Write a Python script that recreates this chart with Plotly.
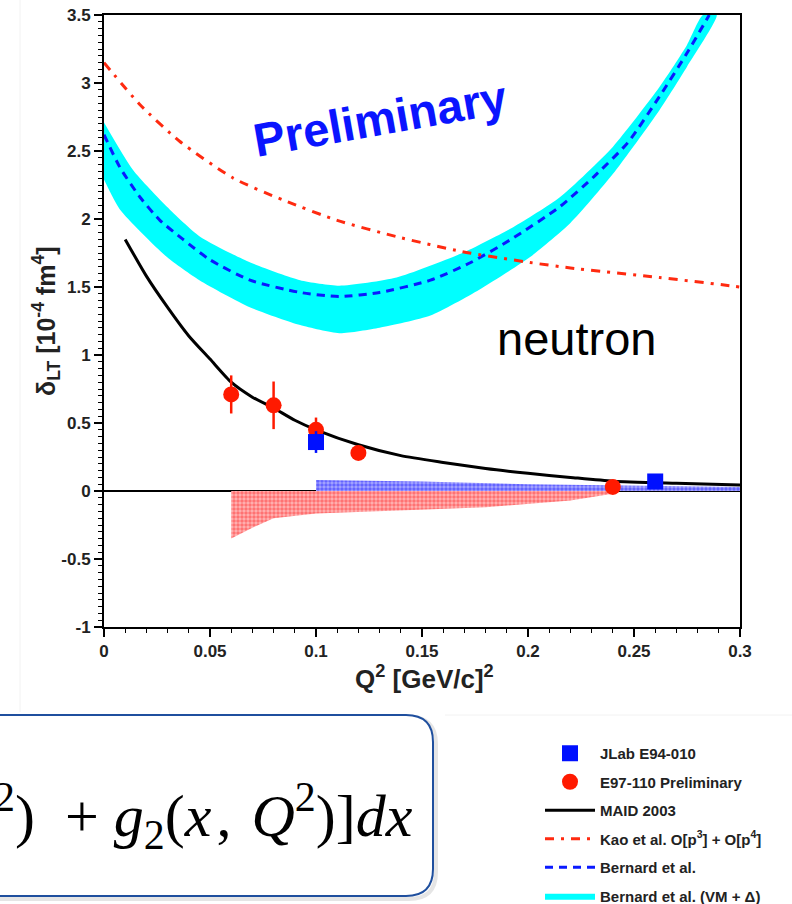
import plotly.graph_objects as go

# ---------------- data ----------------
# Bernard et al. (VM + Delta) band
band_up_x = [0.0, 0.0137, 0.0297, 0.0453, 0.069, 0.0925, 0.111, 0.138, 0.169, 0.193, 0.215, 0.24, 0.262, 0.275, 0.2825]
band_up_y = [2.71, 2.36, 2.09, 1.87, 1.68, 1.55, 1.51, 1.57, 1.75, 1.94, 2.16, 2.53, 2.97, 3.28, 3.5]
band_lo_x = [0.0, 0.0075, 0.0297, 0.045, 0.069, 0.0925, 0.111, 0.13, 0.154, 0.177, 0.201, 0.22, 0.24, 0.262, 0.275, 0.289]
band_lo_y = [2.29, 2.07, 1.72, 1.55, 1.35, 1.22, 1.16, 1.20, 1.29, 1.48, 1.72, 1.97, 2.33, 2.80, 3.12, 3.5]

# Bernard et al. (dashed)
bern_x = [0.0, 0.0075, 0.017, 0.0264, 0.0373, 0.05, 0.0689, 0.0925, 0.111, 0.13, 0.154, 0.173, 0.193, 0.215, 0.231, 0.247, 0.262, 0.275, 0.2855]
bern_y = [2.62, 2.38, 2.16, 1.99, 1.85, 1.70, 1.55, 1.46, 1.43, 1.46, 1.55, 1.68, 1.86, 2.09, 2.31, 2.56, 2.90, 3.22, 3.5]

# Kao et al.
kao_x = [0.0, 0.017, 0.0358, 0.061, 0.0844, 0.11, 0.138, 0.169, 0.201, 0.22, 0.262, 0.295, 0.3]
kao_y = [3.15, 2.84, 2.57, 2.30, 2.14, 1.99, 1.87, 1.76, 1.68, 1.64, 1.57, 1.51, 1.50]

# MAID 2003
maid_x = [0.01, 0.02, 0.03, 0.04, 0.05, 0.06, 0.07, 0.08, 0.09, 0.1, 0.12, 0.14, 0.16, 0.18, 0.2, 0.22, 0.24, 0.27, 0.3]
maid_y = [1.85, 1.58, 1.35, 1.14, 0.97, 0.80, 0.69, 0.61, 0.52, 0.45, 0.34, 0.26, 0.21, 0.165, 0.13, 0.10, 0.072, 0.057, 0.045]

# E97-110 preliminary
e97_x = [0.06, 0.08, 0.1, 0.12, 0.24]
e97_y = [0.71, 0.63, 0.45, 0.28, 0.03]
e97_err = [0.14, 0.175, 0.09, 0.02, 0.01]

# JLab E94-010
e94_x = [0.1, 0.26]
e94_y = [0.36, 0.07]
e94_err = [0.08, 0.01]

# systematic error bands
sys94_x = [0.1, 0.15, 0.2, 0.25, 0.3]
sys94_y = [0.08, 0.07, 0.05, 0.04, 0.03]
sys97_x = [0.06, 0.06, 0.07, 0.08, 0.1, 0.14, 0.18, 0.22, 0.24]
sys97_y = [0.0, -0.35, -0.27, -0.20, -0.165, -0.14, -0.12, -0.07, -0.02]

x_ticks = [0, 0.05, 0.1, 0.15, 0.2, 0.25, 0.3]
x_ticktext = ["0", "0.05", "0.1", "0.15", "0.2", "0.25", "0.3"]
y_ticks = [-1, -0.5, 0, 0.5, 1, 1.5, 2, 2.5, 3, 3.5]
y_ticktext = ["-1", "-0.5", "0", "0.5", "1", "1.5", "2", "2.5", "3", "3.5"]

# ---------------- layout geometry ----------------
W, H = 792, 904
L, R, T, B = 104, 52, 15, 277
PW, PH = W - L - R, H - T - B


def px(x):
    return (x - L) / PW


def py(y):
    return (H - B - y) / PH


FONT = "Liberation Sans"

fig = go.Figure()

# cyan band (closed polygon from upper and lower edges)
fig.add_trace(go.Scatter(
    x=band_up_x + band_lo_x[::-1], y=band_up_y + band_lo_y[::-1],
    fill="toself", fillcolor="#00ffff", line=dict(width=0, color="#00ffff", shape="spline", smoothing=0.6),
    mode="lines", name="Bernard et al. (VM + \u0394)", legendrank=6,
    legendgroup="g6", hoverinfo="skip"))

fig.add_trace(go.Scatter(
    x=bern_x, y=bern_y, mode="lines", line=dict(color="#0a1aff", width=3, dash="8px,6px", shape="spline", smoothing=0.6),
    name="Bernard et al.", legendrank=5, legendgroup="g5"))

fig.add_trace(go.Scatter(
    x=kao_x, y=kao_y, mode="lines", line=dict(color="#ff2a10", width=3, dash="9px,7px,3px,7px", shape="spline", smoothing=0.6),
    name="Kao et al. O[p<sup>3</sup>] + O[p<sup>4</sup>]", legendrank=4, legendgroup="g4"))

# systematic bands
fig.add_trace(go.Scatter(
    x=sys94_x + sys94_x[::-1], y=sys94_y + [0] * len(sys94_x),
    fill="toself", fillcolor="rgba(120,120,255,0.9)", mode="lines", line=dict(width=0, color="#6a6aff"),
    fillpattern=dict(shape=".", fgcolor="#2020ff", bgcolor="#a8a8ff", size=4, solidity=0.6),
    showlegend=False, hoverinfo="skip"))
fig.add_trace(go.Scatter(
    x=sys97_x + sys97_x[::-1][:-1], y=sys97_y + [0] * (len(sys97_x) - 1),
    fill="toself", fillcolor="rgba(255,120,120,0.9)", mode="lines", line=dict(width=0, color="#ff7070"),
    fillpattern=dict(shape=".", fgcolor="#ff3030", bgcolor="#ffb4b4", size=4, solidity=0.6),
    showlegend=False, hoverinfo="skip"))

fig.add_trace(go.Scatter(
    x=maid_x, y=maid_y, mode="lines", line=dict(color="black", width=3, shape="spline", smoothing=0.6),
    name="MAID 2003", legendrank=3, legendgroup="g3"))

fig.add_trace(go.Scatter(
    x=e97_x, y=e97_y, mode="markers", marker=dict(symbol="circle", size=16, color="#ff1a00"),
    error_y=dict(type="data", array=e97_err, color="#ff1a00", thickness=2.5, width=0),
    name="E97-110 Preliminary", legendrank=2, legendgroup="g2"))

fig.add_trace(go.Scatter(
    x=e94_x, y=e94_y, mode="markers", marker=dict(symbol="square", size=16, color="#0010ff"),
    error_y=dict(type="data", array=e94_err, color="#0010ff", thickness=2.5, width=0),
    name="JLab E94-010", legendrank=1, legendgroup="g1"))

axis_common = dict(showline=True, linecolor="black", linewidth=2, mirror=True, ticks="outside",
                   tickcolor="black", tickwidth=1.5, ticklen=8, showgrid=False,
                   tickfont=dict(family=FONT, size=17, color="#222", weight="bold"))

fig.update_xaxes(range=[0, 0.3], tickvals=x_ticks, ticktext=x_ticktext, zeroline=False,
                 minor=dict(ticks="outside", dtick=0.01, ticklen=4, tickwidth=1.2, tickcolor="black"),
                 **axis_common)
fig.update_yaxes(range=[-1, 3.5], tickvals=y_ticks, ticktext=y_ticktext, zeroline=True,
                 zerolinecolor="black", zerolinewidth=1.5,
                 minor=dict(ticks="outside", dtick=0.05, ticklen=4, tickwidth=1.2, tickcolor="black"),
                 **axis_common)

annotations = [
    dict(text="<b>Q<sup>2</sup> [GeV/c]<sup>2</sup></b>", xref="paper", yref="paper", x=px(424), y=py(677),
         showarrow=False, font=dict(family=FONT, size=26, color="#222"), xanchor="center", yanchor="middle"),
    dict(text="<b>\u03b4<sub>LT</sub> [10<sup>-4</sup> fm<sup>4</sup>]</b>", xref="paper", yref="paper", x=px(46), y=py(322),
         showarrow=False, textangle=-90, font=dict(family=FONT, size=25, color="#222"), xanchor="center", yanchor="middle"),
    dict(text="<b>Preliminary</b>", xref="x", yref="y", x=0.130, y=2.74, showarrow=False, textangle=-10,
         font=dict(family=FONT, size=47, color="#0a14ff")),
    dict(text="neutron", xref="x", yref="y", x=0.223, y=1.12, showarrow=False,
         font=dict(family=FONT, size=47, color="black")),
    dict(text="<sup>2</sup>)\u2002+ <i>g</i><sub>2</sub>(<i>x</i>\u200a,\u2004<i>Q</i><sup>2</sup>)]<i>dx</i>",
         xref="paper", yref="paper", x=px(415), y=py(816), xanchor="right", yanchor="middle", showarrow=False,
         font=dict(family="Liberation Serif", size=60, color="black")),
]


def rounded(x0, y0, x1, y1, r):
    # path in paper coordinates built from pixel corners
    pts = [
        f"M{px(x0 + r)},{py(y0)}", f"L{px(x1 - r)},{py(y0)}", f"Q{px(x1)},{py(y0)} {px(x1)},{py(y0 + r)}",
        f"L{px(x1)},{py(y1 - r)}", f"Q{px(x1)},{py(y1)} {px(x1 - r)},{py(y1)}",
        f"L{px(x0 + r)},{py(y1)}", f"Q{px(x0)},{py(y1)} {px(x0)},{py(y1 - r)}",
        f"L{px(x0)},{py(y0 + r)}", f"Q{px(x0)},{py(y0)} {px(x0 + r)},{py(y0)}", "Z"]
    return " ".join(pts)


shapes = [
    dict(type="line", xref="paper", yref="paper", x0=px(20), x1=px(20), y0=py(0), y1=py(712),
         line=dict(color="#f2f2f2", width=1)),
    dict(type="line", xref="paper", yref="paper", x0=px(445), x1=px(792), y0=py(715), y1=py(715),
         line=dict(color="#f2f2f2", width=1)),
    dict(type="path", xref="paper", yref="paper", path=rounded(-40, 717, 436, 899, 27),
         line=dict(color="rgba(0,0,0,0.10)", width=4)),
    dict(type="path", xref="paper", yref="paper", path=rounded(-40, 715, 433, 896, 27),
         line=dict(color="#1f4f9e", width=2), fillcolor="white"),
]

fig.update_layout(
    width=W, height=H, autosize=False,
    margin=dict(l=L, r=R, t=T, b=B, pad=0, autoexpand=False),
    paper_bgcolor="white", plot_bgcolor="white",
    annotations=annotations, shapes=shapes,
    legend=dict(x=px(540), y=py(737), xanchor="left", yanchor="top", traceorder="grouped",
                tracegroupgap=6, itemwidth=50, bgcolor="rgba(0,0,0,0)",
                font=dict(family=FONT, size=15, color="#222", weight="bold")),
    showlegend=True,
)

fig.write_html("out.html")
